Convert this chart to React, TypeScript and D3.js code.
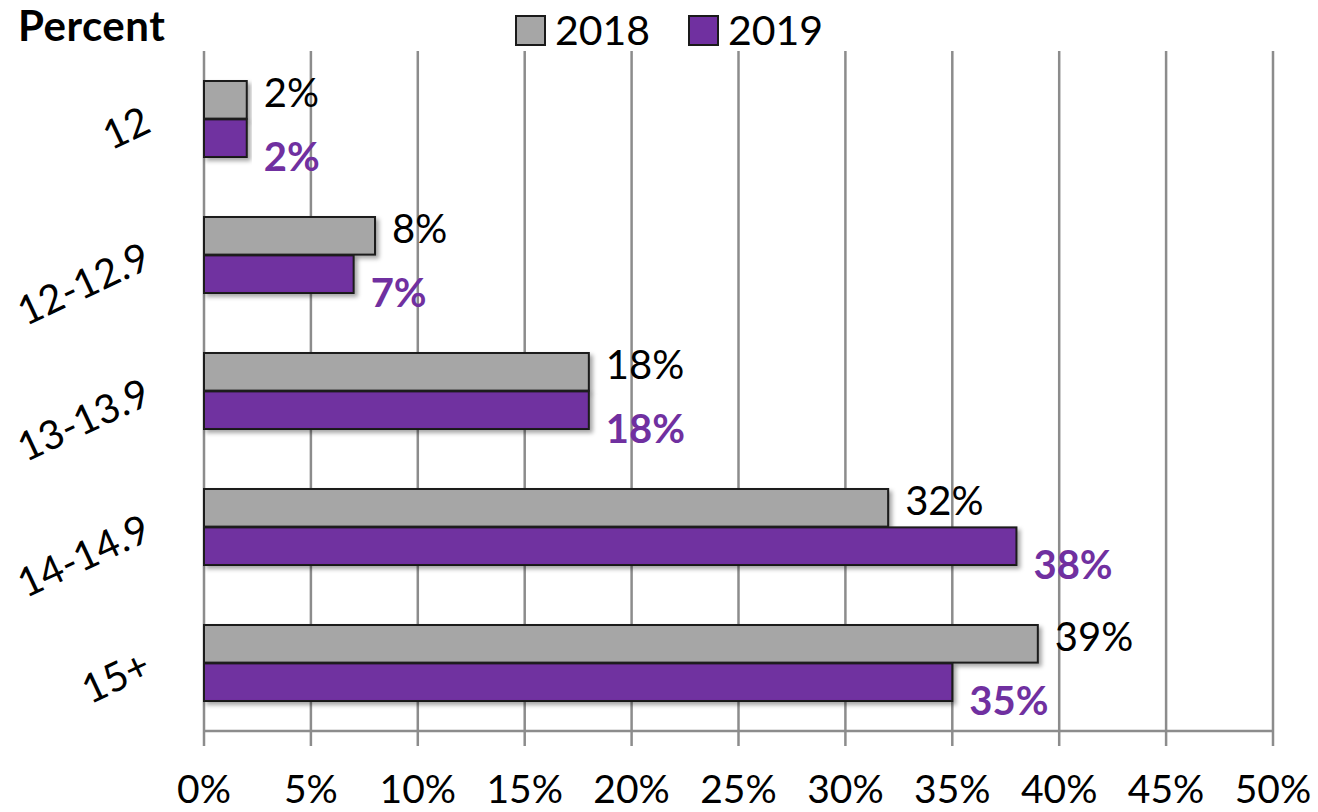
import React from "react";
import * as d3 from "d3";

const categories = ["12", "12-12.9", "13-13.9", "14-14.9", "15+"];
const series2018 = [2, 8, 18, 32, 39];
const series2019 = [2, 7, 18, 38, 35];
const seriesNames = ["2018", "2019"];
const xTicks = [0, 5, 10, 15, 20, 25, 30, 35, 40, 45, 50];

const W = 1318;
const H = 812;
const FONT = "Lato, 'Open Sans', sans-serif";
const GRAY = "#a6a6a6";
const PURPLE = "#7030a0";
const GRID = "#8c8c8c";

export default function App() {
  const x = d3.scaleLinear().domain([0, 50]).range([204, 1273]);
  const y = d3.scaleBand<string>().domain(categories).range([51, 731]).paddingInner(0.43).paddingOuter(0.215);
  const inner = d3.scaleBand<string>().domain(seriesNames).range([0, y.bandwidth()]).padding(0.02);
  const data = [series2018, series2019];
  const axisY = 731;

  return (
    <svg width={W} height={H} style={{ position: "absolute", left: 0, top: 0, background: "#fff" }} fontFamily={FONT}>
      <defs>
        <filter id="sh" x="-5%" y="-20%" width="115%" height="160%">
          <feDropShadow dx="3" dy="3" stdDeviation="2" floodColor="#000" floodOpacity="0.35" />
        </filter>
      </defs>
      {xTicks.map((t) => (
        <g key={t}>
          <line x1={x(t)} x2={x(t)} y1={51} y2={746} stroke={GRID} strokeWidth={2.5} />
          <text x={x(t)} y={803} textAnchor="middle" fontSize={39} fill="#000">{t}%</text>
        </g>
      ))}
      <line x1={x(0)} x2={x(50)} y1={axisY} y2={axisY} stroke={GRID} strokeWidth={2.5} />
      {categories.map((c, i) => {
        const cy = (y(c) ?? 0) + y.bandwidth() / 2;
        return (
          <text key={c} transform={`translate(${153},${cy + 12}) rotate(-25)`} textAnchor="end" fontSize={40} fill="#000">
            {c}
          </text>
        );
      })}
      {data.map((vals, si) =>
        vals.map((v, i) => {
          const c = categories[i];
          const by = (y(c) ?? 0) + (inner(seriesNames[si]) ?? 0);
          const bh = inner.bandwidth();
          return (
            <g key={`${si}-${i}`}>
              <rect x={x(0)} y={by} width={x(v) - x(0)} height={bh} fill={si === 0 ? GRAY : PURPLE} stroke="#1a1a1a" strokeWidth={2} filter="url(#sh)" />
              <text
                x={x(v) + 17}
                y={by + bh / 2 + (si === 0 ? -8 : 18)}
                dominantBaseline="central"
                fontSize={40}
                fontWeight={si === 0 ? 400 : 700}
                fill={si === 0 ? "#000" : PURPLE}
              >
                {v}%
              </text>
            </g>
          );
        })
      )}
      <text x={18} y={41} fontSize={42} fontWeight={700} fill="#000" letterSpacing={0.5}>Percent</text>
      {seriesNames.map((s, i) => {
        const lx = i === 0 ? 516 : 689;
        return (
          <g key={s}>
            <rect x={lx} y={16} width={29} height={29} fill={i === 0 ? GRAY : PURPLE} stroke="#1a1a1a" strokeWidth={2} />
            <text x={lx + 39} y={45} fontSize={41} fill="#000">{s}</text>
          </g>
        );
      })}
    </svg>
  );
}
